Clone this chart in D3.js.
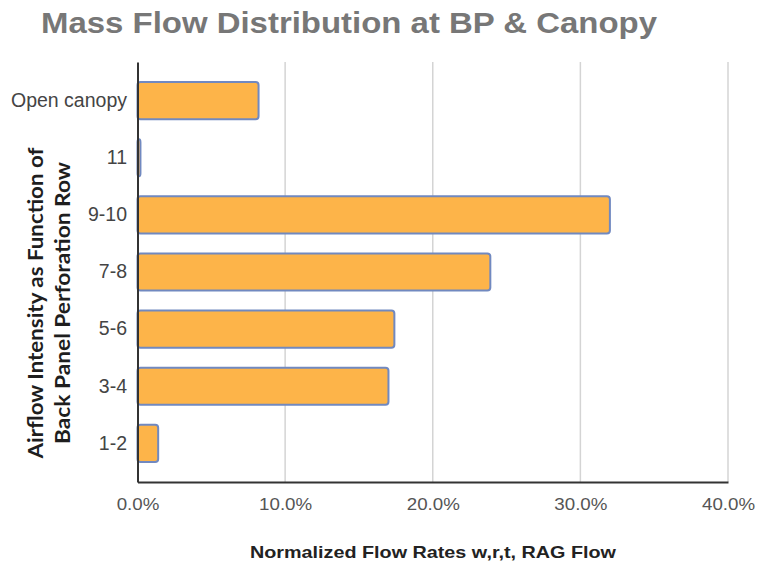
<!DOCTYPE html>
<html>
<head>
<meta charset="utf-8">
<script src="https://cdn.jsdelivr.net/npm/d3@7"></script>
<style>
  html, body { margin: 0; padding: 0; background: #fff; }
  svg { display: block; }
</style>
</head>
<body>
<svg id="chart" width="757" height="561"></svg>
<script>
// Rows of the back panel, top to bottom
const categories = ["Open canopy", "11", "9-10", "7-8", "5-6", "3-4", "1-2"];
// Normalized flow rate per row, in percent
const flowValues = [8.2, 0.2, 32.0, 23.9, 17.4, 17.0, 1.4];
// Axis ticks (percent)
const xTicks = [0, 10, 20, 30, 40];

const titleText = "Mass Flow Distribution at BP & Canopy";
const xTitleText = "Normalized Flow Rates w,r,t, RAG Flow";
const yTitleLines = ["Airflow Intensity as Function of", "Back Panel Perforation Row"];

const svg = d3.select("#chart");
const plot = { left: 137.5, right: 728, top: 62, bottom: 482 };

const x = d3.scaleLinear().domain([0, 40]).range([plot.left, plot.right]);
const y = d3.scaleBand().domain(categories)
  .range([plot.top, plot.bottom])
  .paddingInner(0.35).paddingOuter(0.35);

// widen glyphs horizontally by a factor, keeping the anchor in place
function stretch(sel, k) {
  sel.each(function () {
    const w = this.getComputedTextLength();
    d3.select(this).attr("textLength", w * k).attr("lengthAdjust", "spacingAndGlyphs");
  });
}

// Title
svg.append("text")
  .attr("x", 41).attr("y", 33)
  .attr("font-family", "'Liberation Sans', Arial, sans-serif")
  .attr("font-weight", "bold")
  .attr("font-size", 29)
  .attr("fill", "#777")
  .text(titleText)
  .attr("textLength", 616).attr("lengthAdjust", "spacingAndGlyphs");

// Vertical gridlines
svg.append("g").selectAll("line")
  .data(xTicks.filter(d => d > 0))
  .join("line")
  .attr("x1", d => x(d)).attr("x2", d => x(d))
  .attr("y1", plot.top).attr("y2", plot.bottom)
  .attr("stroke", "#d4d4d4").attr("stroke-width", 1.5);

// Bars
svg.append("g").selectAll("rect")
  .data(categories.map((c, i) => ({ c, v: flowValues[i] })))
  .join("rect")
  .attr("x", x(0))
  .attr("y", d => y(d.c))
  .attr("width", d => x(d.v) - x(0))
  .attr("height", y.bandwidth())
  .attr("rx", 3).attr("ry", 3)
  .attr("fill", "#fdb449")
  .attr("stroke", "#7189c0")
  .attr("stroke-width", 2);

// X axis
const xAxis = svg.append("g")
  .attr("transform", `translate(0,${plot.bottom})`)
  .call(d3.axisBottom(x).tickValues(xTicks).tickFormat(d => d.toFixed(1) + "%").tickSize(0).tickPadding(0));
xAxis.select(".domain").attr("stroke", "#333").attr("stroke-width", 2);
xAxis.selectAll("text")
  .attr("y", 27.5).attr("dy", 0)
  .attr("font-family", "'Liberation Sans', Arial, sans-serif")
  .attr("font-size", 16)
  .attr("fill", "#555")
  .call(stretch, 1.17);

// Y axis
const yAxis = svg.append("g")
  .attr("transform", `translate(${plot.left},0)`)
  .call(d3.axisLeft(y).tickSize(0).tickPadding(10.5));
yAxis.select(".domain").attr("stroke", "#333").attr("stroke-width", 2);
yAxis.selectAll("text")
  .attr("font-family", "'Liberation Sans', Arial, sans-serif")
  .attr("font-size", 19.5)
  .attr("fill", "#444");

// X axis title
svg.append("text")
  .attr("x", 433).attr("y", 558)
  .attr("text-anchor", "middle")
  .attr("font-family", "'Liberation Sans', Arial, sans-serif")
  .attr("font-weight", "bold")
  .attr("font-size", 16.5)
  .attr("fill", "#222")
  .text(xTitleText)
  .attr("textLength", 366).attr("lengthAdjust", "spacingAndGlyphs");

// Y axis title (two lines)
const yTitleLengths = [311, 282];
const yTitle = svg.append("g").attr("transform", "translate(0,303) rotate(-90)");
yTitle.selectAll("text")
  .data(yTitleLines)
  .join("text")
  .attr("x", 0)
  .attr("y", (d, i) => 43 + i * 27)
  .attr("text-anchor", "middle")
  .attr("font-family", "Lato, 'Open Sans', sans-serif")
  .attr("font-weight", "bold")
  .attr("font-size", 21)
  .attr("fill", "#1e1e1e")
  .text(d => d)
  .attr("textLength", (d, i) => yTitleLengths[i])
  .attr("lengthAdjust", "spacingAndGlyphs");
</script>
</body>
</html>
